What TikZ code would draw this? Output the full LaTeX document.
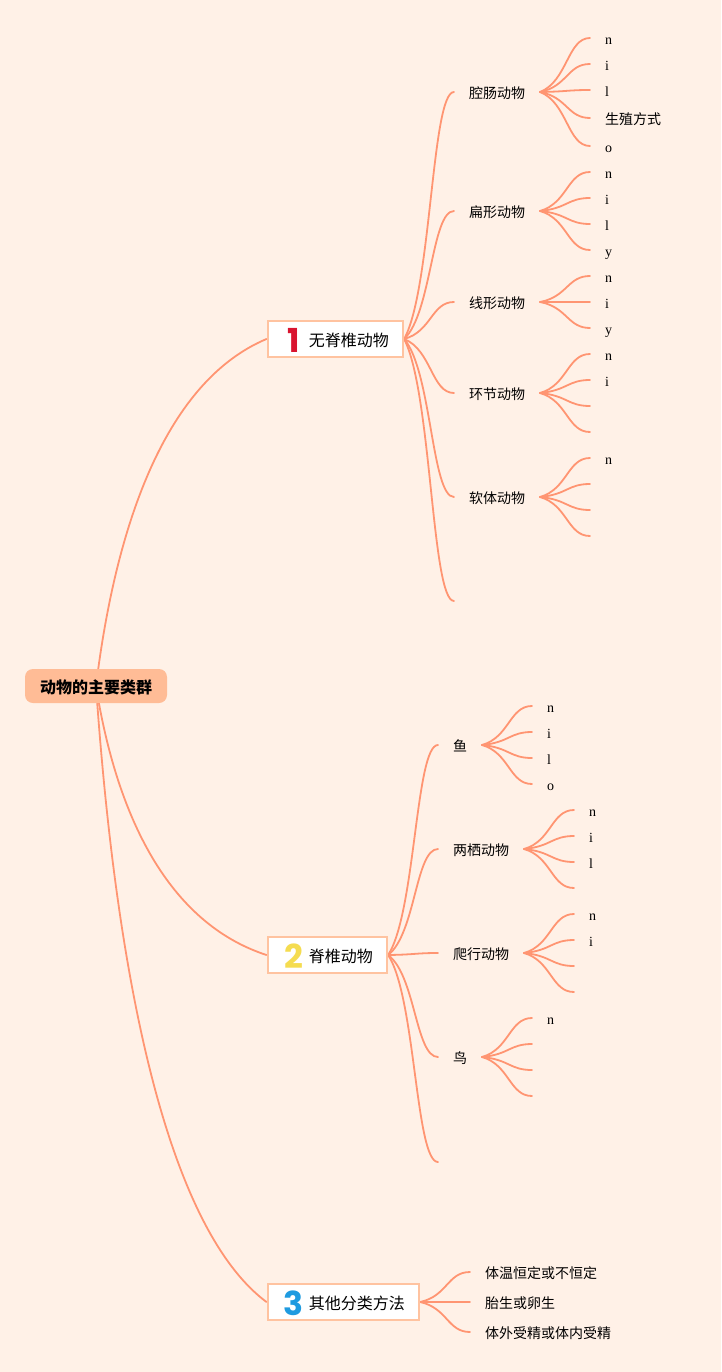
\documentclass[tikz,border=0pt]{standalone}
\usepackage{fontspec}
\setmainfont{Liberation Serif}
\newfontfamily\cjkfont{Noto Sans CJK SC}
\newfontfamily\numfont{Poppins}
\usetikzlibrary{calc}
\definecolor{bgc}{HTML}{FFF1E7}
\definecolor{linec}{HTML}{FF9572}
\definecolor{boxline}{HTML}{FFC3A0}
\definecolor{rootfill}{HTML}{FFBC96}
\definecolor{numa}{HTML}{D9142F}
\definecolor{numb}{HTML}{F5DC50}
\definecolor{numc}{HTML}{1F9BE0}
\pgfdeclarelayer{bg}
\pgfsetlayers{bg,main}
\newcommand{\numtag}[2]{\makebox[24pt][c]{\raisebox{-6pt}[0pt][0pt]{\textcolor{#1}{\numfont\bfseries\fontsize{33pt}{33pt}\selectfont #2}}}\hspace{3pt}}
\tikzset{
  x=1pt,y=-1pt,
  rootnode/.style={rounded corners=8pt,fill=rootfill,inner xsep=15pt,inner ysep=0pt,minimum height=34pt,
    text height=14.5pt,text depth=0.5pt,
    font=\cjkfont\bfseries\fontsize{16pt}{16pt}\selectfont,text=black},
  topicbox/.style={anchor=west,draw=boxline,line width=2pt,fill=white,inner xsep=14.3pt,inner ysep=0pt,minimum height=36pt,
    text height=14.5pt,text depth=0.5pt,
    font=\cjkfont\fontsize{16pt}{16pt}\selectfont,text=black},
  subnode/.style={anchor=west,inner xsep=0pt,outer xsep=15pt,inner ysep=0pt,text height=13pt,text depth=0.4pt,
    font=\cjkfont\fontsize{14pt}{14pt}\selectfont,text=black},
  leafnode/.style={anchor=west,inner xsep=0pt,outer xsep=15pt,inner ysep=0pt,text height=15pt,text depth=2pt,
    font=\fontsize{14pt}{14pt}\selectfont,text=black},
  link/.style={draw=linec,line width=1.8pt,line cap=round,
    to path={let \p1=(\tikztostart),\p2=(\tikztotarget) in
      .. controls ({\x1+0.55*(\x2-\x1)},{\y1+0.2*(\y2-\y1)}) and ({\x1+0.55*(\x2-\x1)},{\y2}) .. (\tikztotarget)}},
  rootlink/.style={draw=linec,line width=1.8pt,line cap=round,
    to path={let \p1=(\tikztostart),\p2=(\tikztotarget) in
      .. controls ({\x1+0.12*(\x2-\x1)},{\y1+0.48*(\y2-\y1)}) and ({\x1+0.42*(\x2-\x1)},{\y1+0.88*(\y2-\y1)}) .. (\tikztotarget)}},
}
\begin{document}
\begin{tikzpicture}
\begin{pgfonlayer}{bg}
\fill[bgc] (0,0) rectangle (721,1372);
\end{pgfonlayer}
\useasboundingbox (0,0) rectangle (721,1372);
% root and topics
\node[rootnode] (root) at (96,686) {动物的主要类群};
\node[topicbox] (ta) at (266.5,339) {\numtag{numa}{1}无脊椎动物};
\node[topicbox] (tb) at (266.5,955) {\numtag{numb}{2}脊椎动物};
\node[topicbox] (tc) at (266.5,1302) {\numtag{numc}{3}其他分类方法};
% first branch
\node[subnode] (a1) at (454,92) {腔肠动物};
\node[subnode] (a2) at (454,211) {扁形动物};
\node[subnode] (a3) at (454,302) {线形动物};
\node[subnode] (a4) at (454,393) {环节动物};
\node[subnode] (a5) at (454,497) {软体动物};
\coordinate (a6) at (454,601);
\node[leafnode] (a1a) at (590,38) {n};
\node[leafnode] (a1b) at (590,64) {i};
\node[leafnode] (a1c) at (590,90) {l};
\node[subnode] (a1d) at (590,118) {生殖方式};
\node[leafnode] (a1e) at (590,146) {o};
\node[leafnode] (a2a) at (590,172) {n};
\node[leafnode] (a2b) at (590,198) {i};
\node[leafnode] (a2c) at (590,224) {l};
\node[leafnode] (a2d) at (590,250) {y};
\node[leafnode] (a3a) at (590,276) {n};
\node[leafnode] (a3b) at (590,302) {i};
\node[leafnode] (a3c) at (590,328) {y};
\node[leafnode] (a4a) at (590,354) {n};
\node[leafnode] (a4b) at (590,380) {i};
\coordinate (a4c) at (590,406);
\coordinate (a4d) at (590,432);
\node[leafnode] (a5a) at (590,458) {n};
\coordinate (a5b) at (590,484);
\coordinate (a5c) at (590,510);
\coordinate (a5d) at (590,536);
% second branch
\node[subnode] (b1) at (438,745) {鱼};
\node[subnode] (b2) at (438,849) {两栖动物};
\node[subnode] (b3) at (438,953) {爬行动物};
\node[subnode] (b4) at (438,1057) {鸟};
\coordinate (b5) at (438,1162);
\node[leafnode] (b1a) at (532,706) {n};
\node[leafnode] (b1b) at (532,732) {i};
\node[leafnode] (b1c) at (532,758) {l};
\node[leafnode] (b1d) at (532,784) {o};
\node[leafnode] (b2a) at (574,810) {n};
\node[leafnode] (b2b) at (574,836) {i};
\node[leafnode] (b2c) at (574,862) {l};
\coordinate (b2d) at (574,888);
\node[leafnode] (b3a) at (574,914) {n};
\node[leafnode] (b3b) at (574,940) {i};
\coordinate (b3c) at (574,966);
\coordinate (b3d) at (574,992);
\node[leafnode] (b4a) at (532,1018) {n};
\coordinate (b4b) at (532,1044);
\coordinate (b4c) at (532,1070);
\coordinate (b4d) at (532,1096);
% third branch
\node[subnode] (c1) at (470,1272) {体温恒定或不恒定};
\node[subnode] (c2) at (470,1302) {胎生或卵生};
\node[subnode] (c3) at (470,1332) {体外受精或体内受精};
\begin{pgfonlayer}{bg}
\draw[rootlink] (root.center) to (ta.west);
\draw[rootlink] (root.center) to (tb.west);
\draw[rootlink] (root.center) to (tc.west);
\foreach \t in {a1,a2,a3,a4,a5} \draw[link] (ta.east) to (\t.west);
\draw[link] (ta.east) to (a6);
\foreach \t in {a1a,a1b,a1c,a1d,a1e} \draw[link] (a1.east) to (\t.west);
\foreach \t in {a2a,a2b,a2c,a2d} \draw[link] (a2.east) to (\t.west);
\foreach \t in {a3a,a3b,a3c} \draw[link] (a3.east) to (\t.west);
\foreach \t in {a4a,a4b} \draw[link] (a4.east) to (\t.west);
\foreach \t in {a4c,a4d} \draw[link] (a4.east) to (\t);
\draw[link] (a5.east) to (a5a.west);
\foreach \t in {a5b,a5c,a5d} \draw[link] (a5.east) to (\t);
\foreach \t in {b1,b2,b3,b4} \draw[link] (tb.east) to (\t.west);
\draw[link] (tb.east) to (b5);
\foreach \t in {b1a,b1b,b1c,b1d} \draw[link] (b1.east) to (\t.west);
\foreach \t in {b2a,b2b,b2c} \draw[link] (b2.east) to (\t.west);
\draw[link] (b2.east) to (b2d);
\foreach \t in {b3a,b3b} \draw[link] (b3.east) to (\t.west);
\foreach \t in {b3c,b3d} \draw[link] (b3.east) to (\t);
\draw[link] (b4.east) to (b4a.west);
\foreach \t in {b4b,b4c,b4d} \draw[link] (b4.east) to (\t);
\foreach \t in {c1,c2,c3} \draw[link] (tc.east) to (\t.west);
\end{pgfonlayer}
\end{tikzpicture}
\end{document}
